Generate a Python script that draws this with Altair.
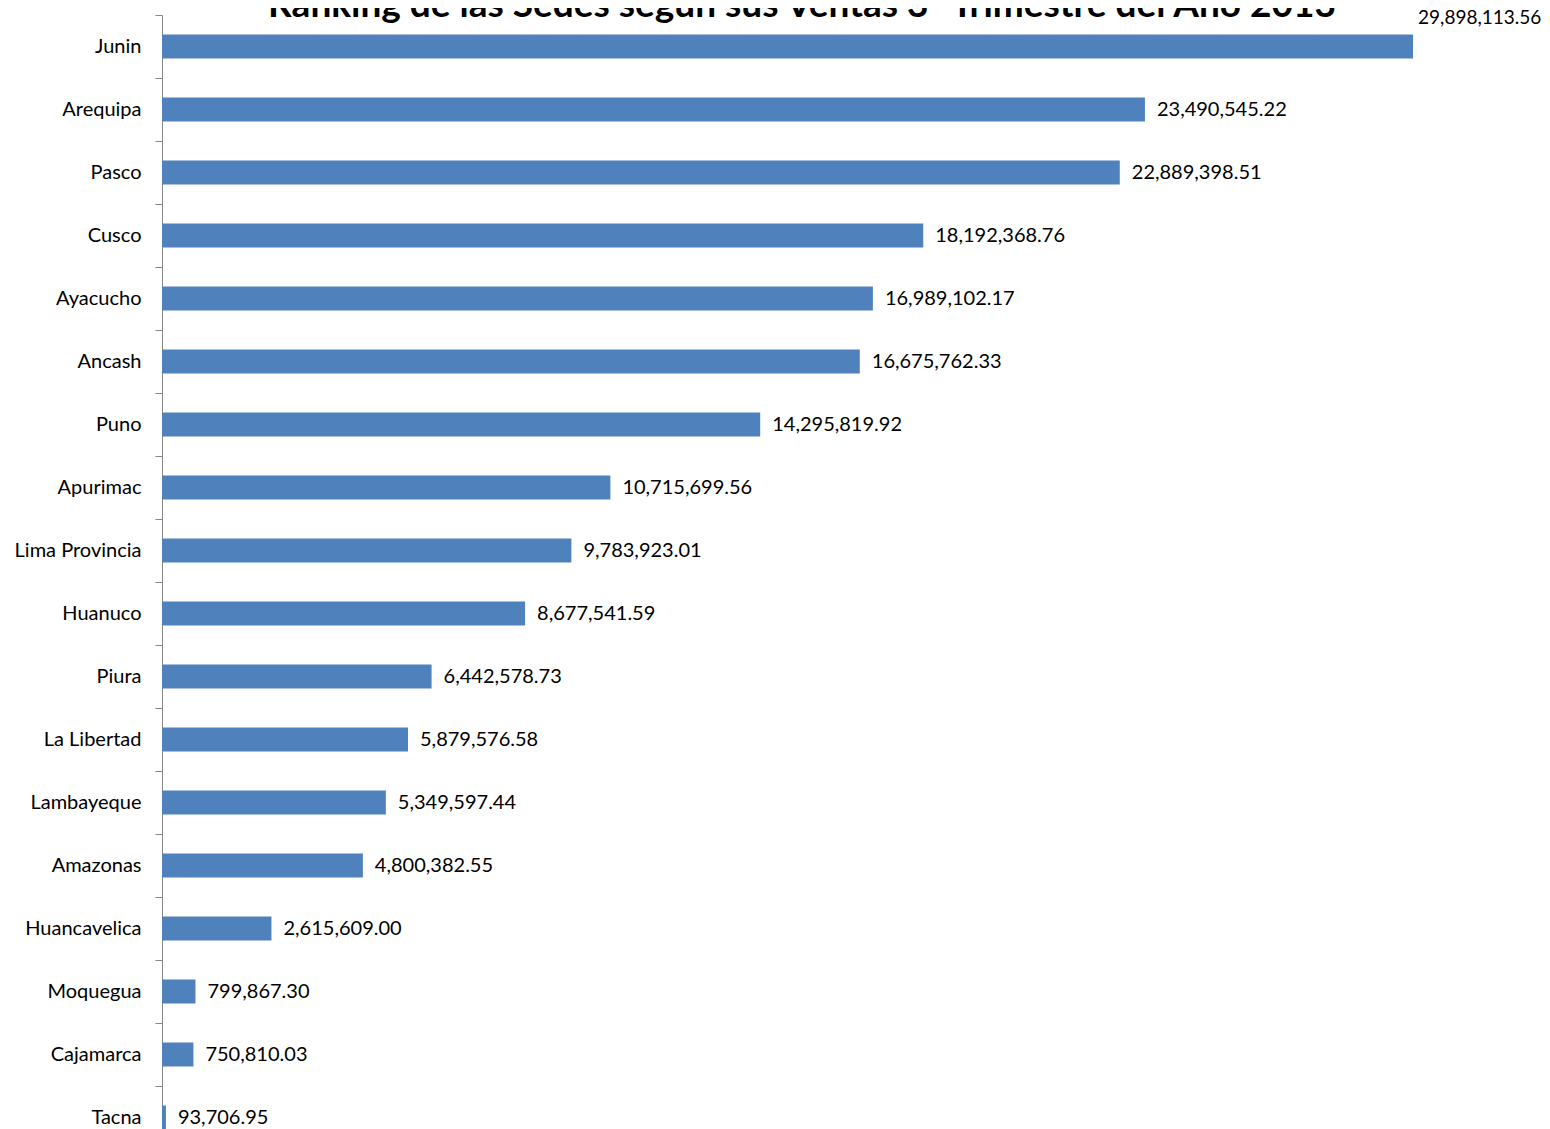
import altair as alt
import pandas as pd

sedes = ["Junin", "Arequipa", "Pasco", "Cusco", "Ayacucho", "Ancash", "Puno",
         "Apurimac", "Lima Provincia", "Huanuco", "Piura", "La Libertad",
         "Lambayeque", "Amazonas", "Huancavelica", "Moquegua", "Cajamarca", "Tacna"]
ventas = [29898113.56, 23490545.22, 22889398.51, 18192368.76, 16989102.17,
          16675762.33, 14295819.92, 10715699.56, 9783923.01, 8677541.59,
          6442578.73, 5879576.58, 5349597.44, 4800382.55, 2615609.00,
          799867.30, 750810.03, 93706.95]
titulo = "Ranking de las Sedes según  sus Ventas  3º Trimestre del Año 2013"

df = pd.DataFrame({"sede": sedes, "ventas": ventas})

W = 1339
H = 1114
FONT = "Lato"
FS = 20

y_enc = alt.Y("sede:N", sort=sedes, title=None,
              scale=alt.Scale(range=[0, 1134], paddingInner=0, paddingOuter=0),
              axis=alt.Axis(domainColor="#868686", tickColor="#868686", tickSize=7,
                            tickBand="extent", labelPadding=14, labelFont=FONT,
                            labelFontSize=FS, labelColor="#000000", labelLimit=300,
                            grid=False))
x_enc = alt.X("ventas:Q", title=None, axis=None,
              scale=alt.Scale(domain=[0, 32000000], nice=False))

base = alt.Chart(df)
bars = base.mark_bar(color="#4F81BD", size=24).encode(x=x_enc, y=y_enc)
labels = base.transform_filter(alt.datum.sede != "Junin").mark_text(
    align="left", baseline="middle", dx=12, font=FONT, fontSize=FS, color="#000000"
).encode(x=x_enc, y=y_enc, text=alt.Text("ventas:Q", format=",.2f"))
top_label = base.transform_filter(alt.datum.sede == "Junin").mark_text(
    align="left", baseline="middle", dx=5, dy=-29, font=FONT, fontSize=19, color="#000000"
).encode(x=x_enc, y=y_enc, text=alt.Text("ventas:Q", format=",.2f"))

title_df = pd.DataFrame({"t": [titulo]})
title_mark = alt.Chart(title_df).mark_text(
    align="center", baseline="alphabetic", font=FONT, fontSize=37, fontWeight="bold",
    color="#000000"
).encode(text="t:N", x=alt.value(640), y=alt.value(2))

chart = alt.layer(bars, labels, top_label, title_mark).properties(
    width=W, height=H,
    background="#ffffff",
    autosize=alt.AutoSizeParams(type="none"),
    padding={"left": 154, "top": 7, "right": 1534 - 154 - W, "bottom": 0},
).configure_view(stroke=None)

chart.save("out.html", embed_options={"renderer": "svg", "actions": False})
